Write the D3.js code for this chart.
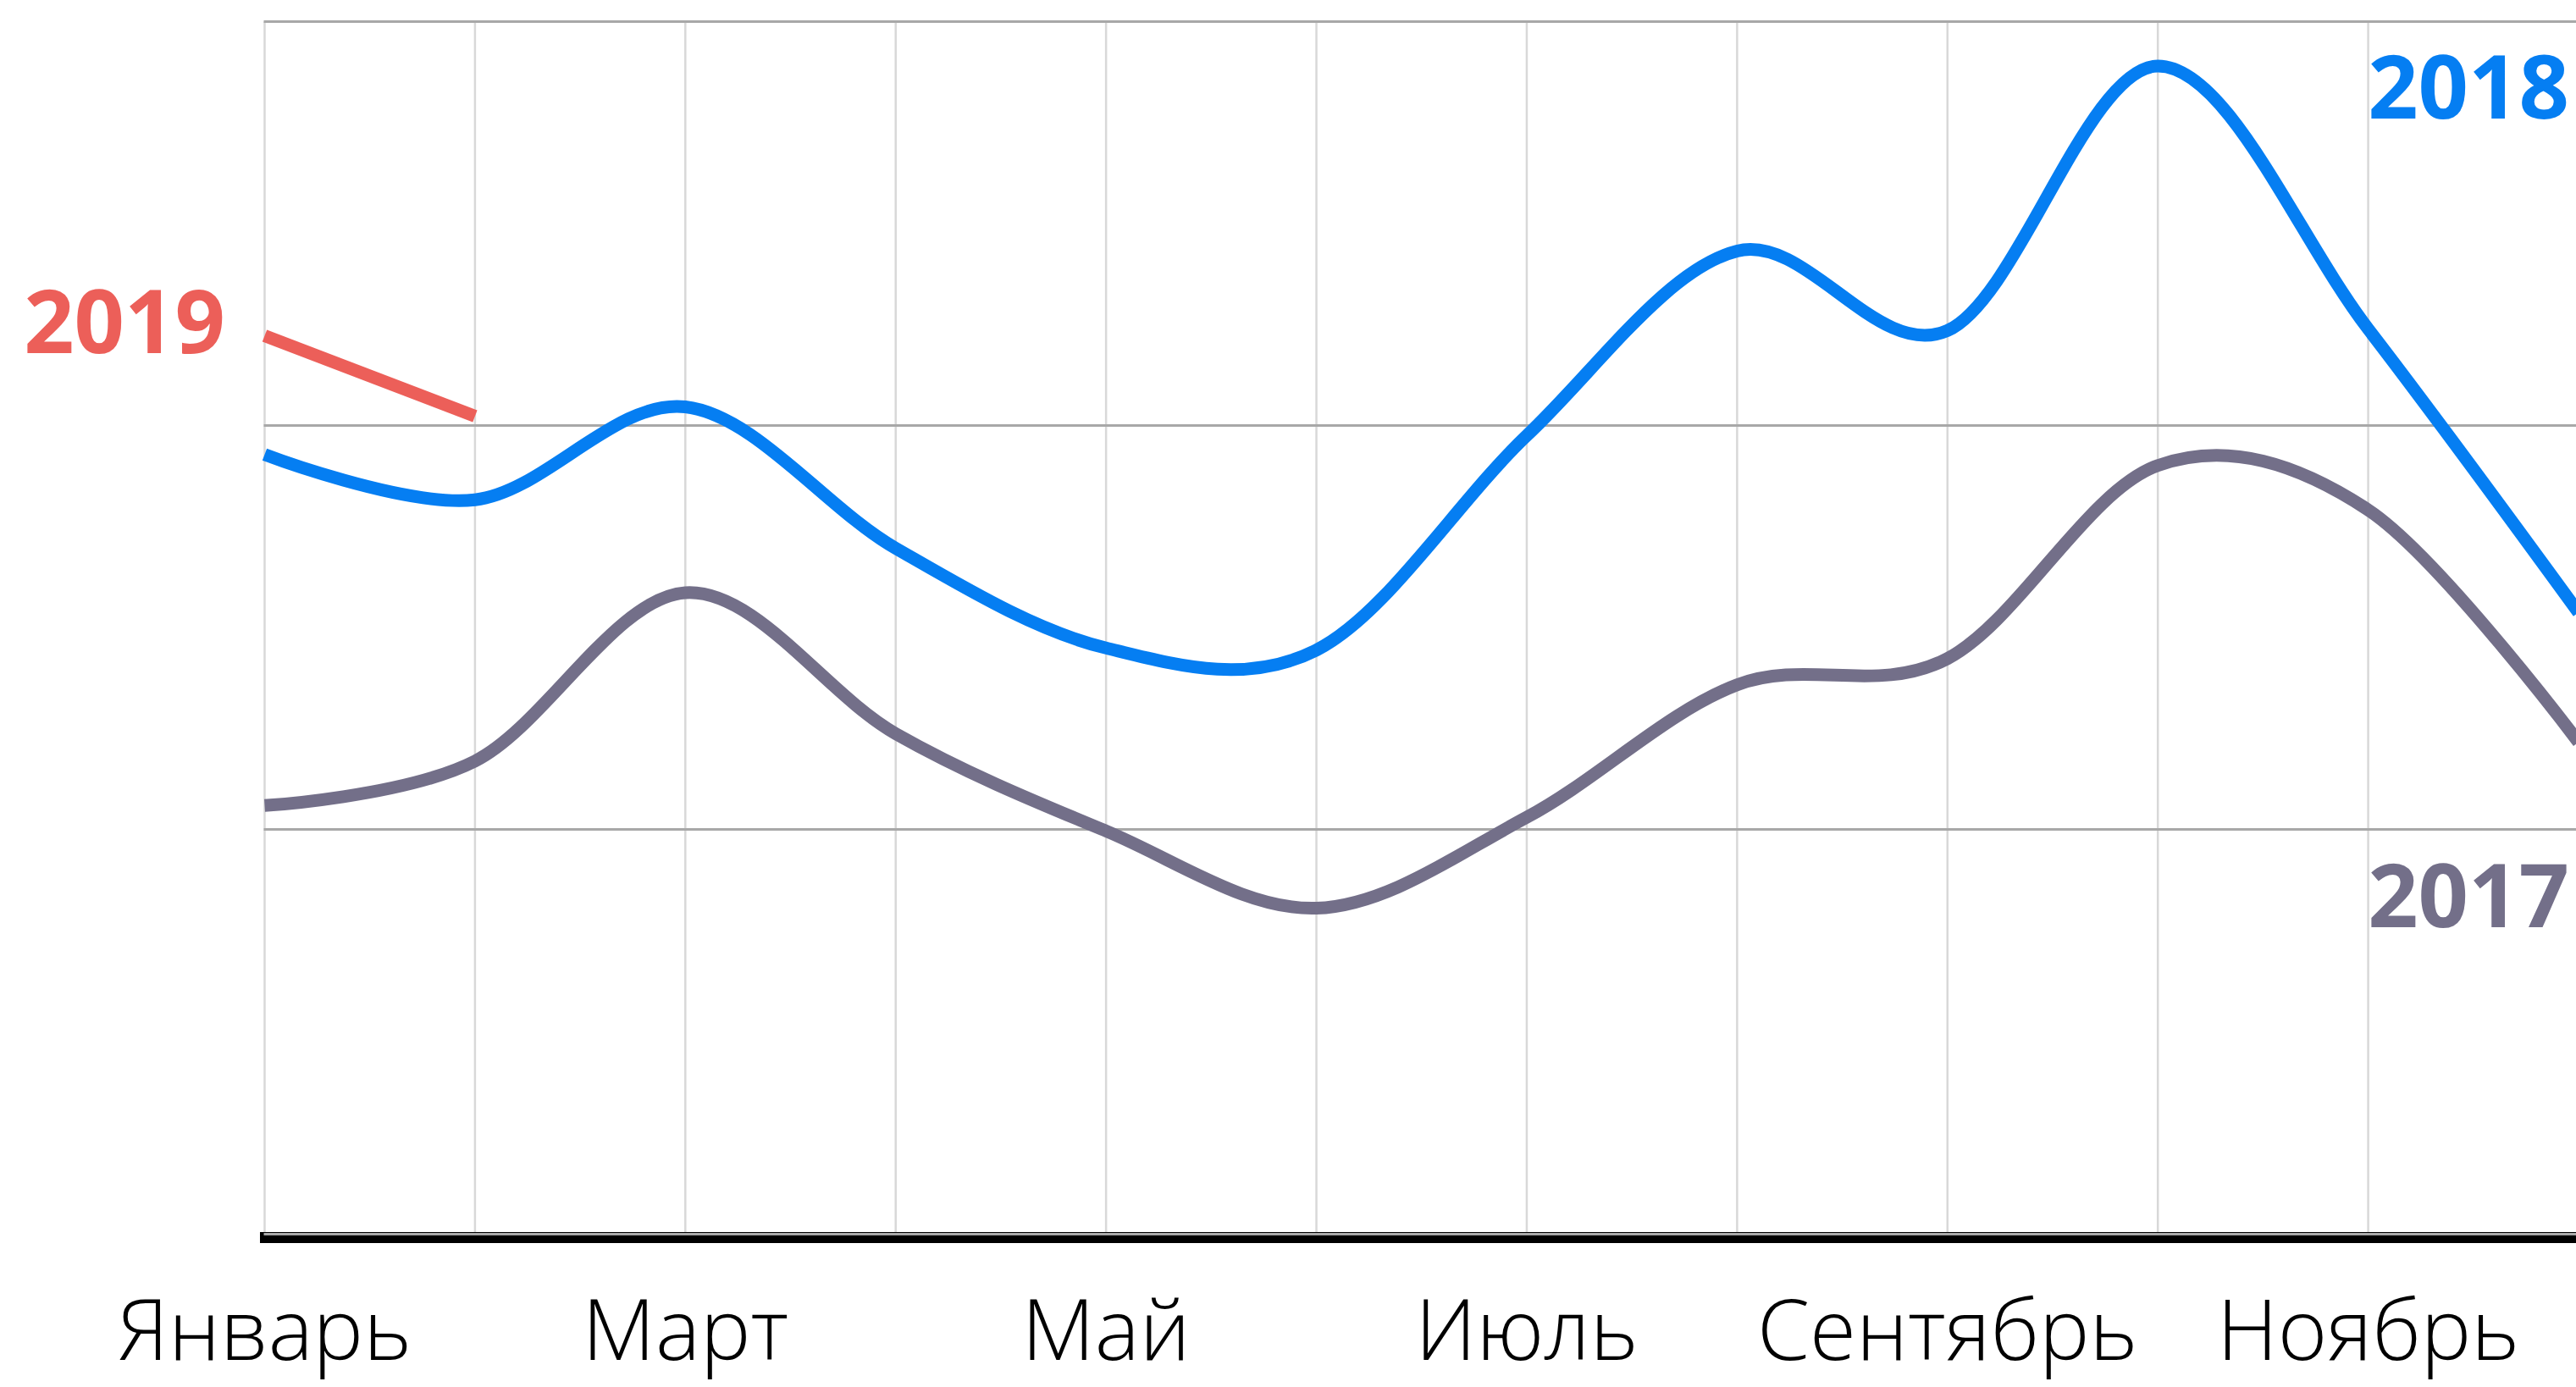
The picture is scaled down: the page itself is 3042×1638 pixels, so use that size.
<!DOCTYPE html>
<html>
<head>
<meta charset="utf-8">
<script src="https://cdn.jsdelivr.net/npm/d3@7"></script>
<style>
  html, body { margin: 0; padding: 0; background: #fff; overflow: hidden; }
  svg { display: block; }
</style>
</head>
<body>
<svg id="chart" width="3042" height="1638"></svg>
<script>
// ---- data ----
const months = ["Январь","Февраль","Март","Апрель","Май","Июнь","Июль","Август","Сентябрь","Октябрь","Ноябрь","Декабрь"];
const tickLabels = ["Январь","Март","Май","Июль","Сентябрь","Ноябрь"];
const gridValues = [0, 1, 2, 3];
const values2017 = [1.059, 1.169, 1.586, 1.237, 0.996, 0.805, 1.030, 1.358, 1.423, 1.901, 1.791, 1.216];
const values2018 = [1.928, 1.816, 2.046, 1.696, 1.449, 1.444, 1.975, 2.432, 2.235, 2.890, 2.239, 1.537];
const values2019 = [2.222, 2.023];
const seriesNames = ["2017", "2018", "2019"];

// ---- layout ----
const W = 3042, H = 1638;
const svg = d3.select("#chart");
const x = d3.scalePoint().domain(months).range([312.5, 3045]);
const y = d3.scaleLinear().domain([0, 3]).range([1456.5, 25.5]);

// vertical grid
svg.append("g").selectAll("line").data(months).join("line")
  .attr("x1", d => x(d)).attr("x2", d => x(d))
  .attr("y1", y(3)).attr("y2", y(0))
  .attr("stroke", "#d8d8d8").attr("stroke-width", 2.5);

// bottom axis bar
svg.append("rect").attr("x", 307).attr("y", y(0) - 1.5).attr("width", W - 307).attr("height", 13).attr("fill", "#000");

// horizontal grid
svg.append("g").selectAll("line").data(gridValues).join("line")
  .attr("x1", x(months[0]) - 1).attr("x2", W)
  .attr("y1", d => y(d) + (d === 0 ? 1 : 0)).attr("y2", d => y(d) + (d === 0 ? 1 : 0))
  .attr("stroke", "#a8a8a8").attr("stroke-width", 3);

// lines
const line = d3.line()
  .x((d, i) => x(months[i]))
  .y(d => y(d))
  .curve(d3.curveCardinal.tension(0));

const colors = { "2017": "#736f89", "2018": "#057ef2", "2019": "#ec5f59" };

svg.append("path").datum(values2017).attr("d", line)
  .attr("fill", "none").attr("stroke", colors["2017"]).attr("stroke-width", 15);
svg.append("path").datum(values2018).attr("d", line)
  .attr("fill", "none").attr("stroke", colors["2018"]).attr("stroke-width", 15);
svg.append("path").datum(values2019).attr("d", d3.line().x((d, i) => x(months[i])).y(d => y(d)))
  .attr("fill", "none").attr("stroke", colors["2019"]).attr("stroke-width", 15);

// series labels
const lab = svg.append("g")
  .attr("font-family", "'Open Sans', 'DejaVu Sans', sans-serif")
  .attr("font-weight", 700)
  .attr("font-size", 104)
  .attr("text-anchor", "end");
lab.append("text").attr("x", 266).attr("y", 417).attr("fill", colors["2019"]).text(seriesNames[2]);
lab.append("text").attr("x", 3034).attr("y", 140).attr("fill", colors["2018"]).text(seriesNames[1]);
lab.append("text").attr("x", 3034).attr("y", 1095).attr("fill", colors["2017"]).text(seriesNames[0]);

// month labels
svg.append("g")
  .attr("font-family", "'Open Sans', 'DejaVu Sans', sans-serif")
  .attr("font-weight", 300)
  .attr("font-size", 100)
  .attr("text-anchor", "middle")
  .attr("fill", "#000")
  .selectAll("text").data(tickLabels).join("text")
  .attr("x", d => x(d)).attr("y", 1606)
  .text(d => d);
</script>
</body>
</html>
